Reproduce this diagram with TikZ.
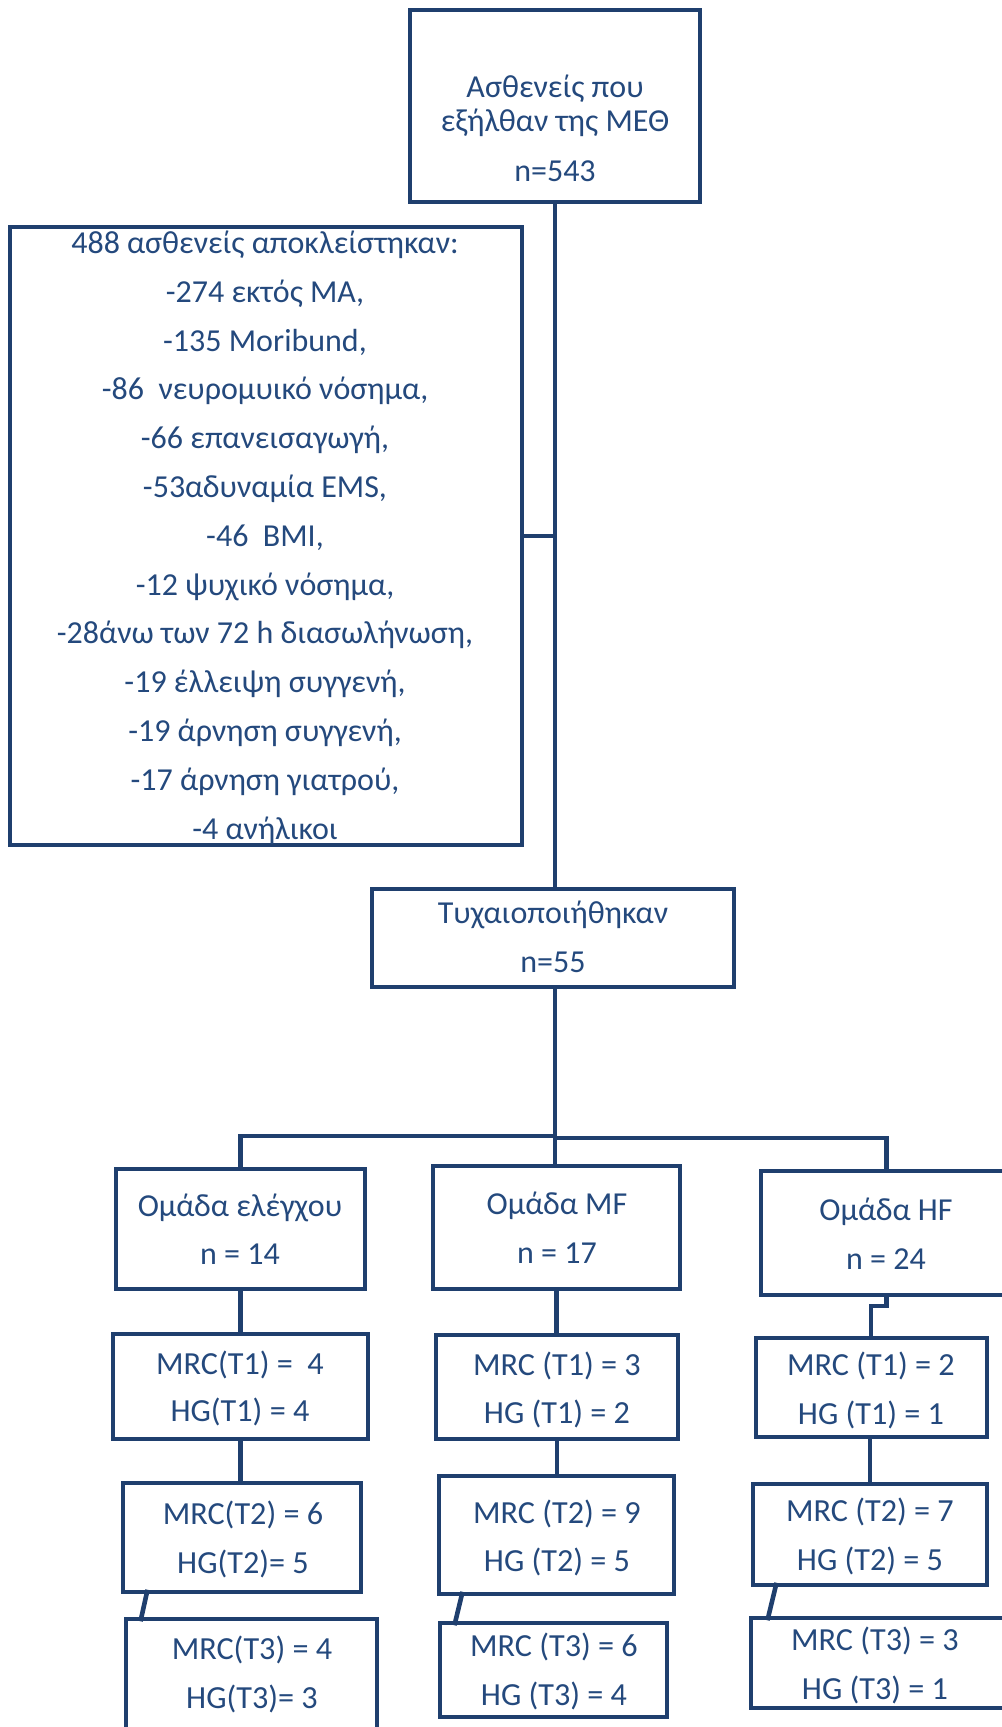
\documentclass[tikz,border=0pt]{standalone}
\usepackage{fontspec}
\setmainfont{Carlito}
\usetikzlibrary{fit}
\definecolor{lc}{HTML}{1F3F6E}
\definecolor{tc}{HTML}{24497D}
\tikzset{
  box/.style={draw=lc, line width=2.3pt, inner sep=0pt, outer sep=0pt, rectangle},
  conn/.style={draw=lc, line width=2.3pt, line cap=rect},
  ts/.style={text=tc, inner sep=0pt, anchor=base, font=\fontsize{16pt}{19pt}\selectfont},
  tg/.style={text=tc, inner sep=0pt, anchor=base, font=\fontsize{16pt}{19pt}\selectfont},
  tt/.style={text=tc, inner sep=0pt, anchor=base, font=\fontsize{16.1pt}{19pt}\selectfont},
}
\begin{document}
\begin{tikzpicture}[x=0.5pt, y=-0.5pt]
\useasboundingbox (0,0) rectangle (1001,1727);
% boxes
\node[box, fit={(410,10) (700,202)}] (top) {};
\node[box, fit={(10,227) (522,845)}] (excl) {};
\node[box, fit={(372,889) (734,987)}] (rand) {};
\node[box, fit={(116,1169) (365,1289)}] (g1) {};
\node[box, fit={(433,1166) (680,1289)}] (g2) {};
\node[box, fit={(761,1171) (1012,1295)}] (g3) {};
\node[box, fit={(113,1334) (368,1439)}] (c1) {};
\node[box, fit={(436,1335) (678,1439)}] (m1) {};
\node[box, fit={(756,1338) (987,1437)}] (h1) {};
\node[box, fit={(123,1483) (361,1592)}] (c2) {};
\node[box, fit={(439,1476) (674,1594)}] (m2) {};
\node[box, fit={(753,1484) (987,1585)}] (h2) {};
\node[box, fit={(126,1619) (377,1745)}] (c3) {};
\node[box, fit={(440,1623) (667,1717)}] (m3) {};
\node[box, fit={(751,1618) (1012,1708)}] (h3) {};
% texts
\node[ts] (t1) at (555,98) {Ασθενείς που};
\node[ts] (t2) at (555,132) {εξήλθαν της ΜΕΘ};
\node[ts] (t3) at (555,182) {n=543};
\foreach \t [count=\i from 0] in {488 ασθενείς αποκλείστηκαν:, {-274 εκτός ΜΑ,}, {-135 Moribund,}, {-86\ \ νευρομυικό νόσημα,}, {-66 επανεισαγωγή,}, {-53αδυναμία EMS,}, {-46\ \ BMI,}, {-12 ψυχικό νόσημα,}, {-28άνω των 72 h διασωλήνωση,}, {-19 έλλειψη συγγενή,}, {-19 άρνηση συγγενή,}, {-17 άρνηση γιατρού,}, {-4 ανήλικοι}}
  \node[ts] (ex\i) at (265,253.5+\i*48.8) {\t};
\node[ts] (r1) at (553,923.5) {Τυχαιοποιήθηκαν};
\node[ts] (r2) at (553,972.5) {n=55};
\node[tg] (g1a) at (240,1216) {Ομάδα ελέγχου};
\node[tg] (g1b) at (240,1264) {n = 14};
\node[tg] (g2a) at (557,1214) {Ομάδα MF};
\node[tg] (g2b) at (557,1263) {n = 17};
\node[tg] (g3a) at (886,1220) {Ομάδα HF};
\node[tg] (g3b) at (886,1269) {n = 24};
\node[tt] (c1a) at (240,1374) {MRC(T1) =\ \ 4};
\node[tt] (c1b) at (240,1421) {HG(T1) = 4};
\node[tt] (m1a) at (557,1375) {MRC (T1) = 3};
\node[tt] (m1b) at (557,1423) {HG (T1) = 2};
\node[tt] (h1a) at (871,1375) {MRC (T1) = 2};
\node[tt] (h1b) at (871,1424) {HG (T1) = 1};
\node[tt] (c2a) at (243,1524) {MRC(T2) = 6};
\node[tt] (c2b) at (243,1573) {HG(T2)= 5};
\node[tt] (m2a) at (557,1523) {MRC (T2) = 9};
\node[tt] (m2b) at (557,1571) {HG (T2) = 5};
\node[tt] (h2a) at (870,1521) {MRC (T2) = 7};
\node[tt] (h2b) at (870,1570) {HG (T2) = 5};
\node[tt] (c3a) at (252,1659) {MRC(T3) = 4};
\node[tt] (c3b) at (252,1708) {HG(T3)= 3};
\node[tt] (m3a) at (554,1656) {MRC (T3) = 6};
\node[tt] (m3b) at (554,1705) {HG (T3) = 4};
\node[tt] (h3a) at (875,1650) {MRC (T3) = 3};
\node[tt] (h3b) at (875,1699) {HG (T3) = 1};
% connectors
\coordinate (vx) at (555,0);
\coordinate (jx) at (555,536);
\coordinate (sp) at (555,1136);
\coordinate (spr) at (555,1138);
\draw[conn] (top.south -| vx) -- (rand.north -| vx);
\draw[conn] (excl.east |- jx) -- (jx);
\draw[conn] (rand.south -| vx) -- (sp);
\draw[conn] (sp) -| (g1.north);
\draw[conn] (spr) -| (g3.north);
\draw[conn] (sp) -- (g2.north -| sp);
\draw[conn] (g1.south) -- (c1.north -| g1.south);
\draw[conn] (g2.south) -- (m1.north -| g2.south);
\coordinate (hj) at (871,1306);
\draw[conn] (g3.south) -- (g3.south |- hj) -- (hj) -- (h1.north -| hj);
\draw[conn] (c1.south) -- (c1.south |- c2.north);
\draw[conn] (m1.south) -- (m1.south |- m2.north);
\coordinate (hk) at (870,0);
\draw[conn] (h1.south -| hk) -- (h2.north -| hk);
\draw[conn] ([xshift=12pt]c2.south west) -- ([xshift=7.5pt]c3.north west);
\draw[conn] ([xshift=11.5pt]m2.south west) -- ([xshift=7.5pt]m3.north west);
\draw[conn] ([xshift=11.5pt]h2.south west) -- ([xshift=8.5pt]h3.north west);
\end{tikzpicture}
\end{document}
